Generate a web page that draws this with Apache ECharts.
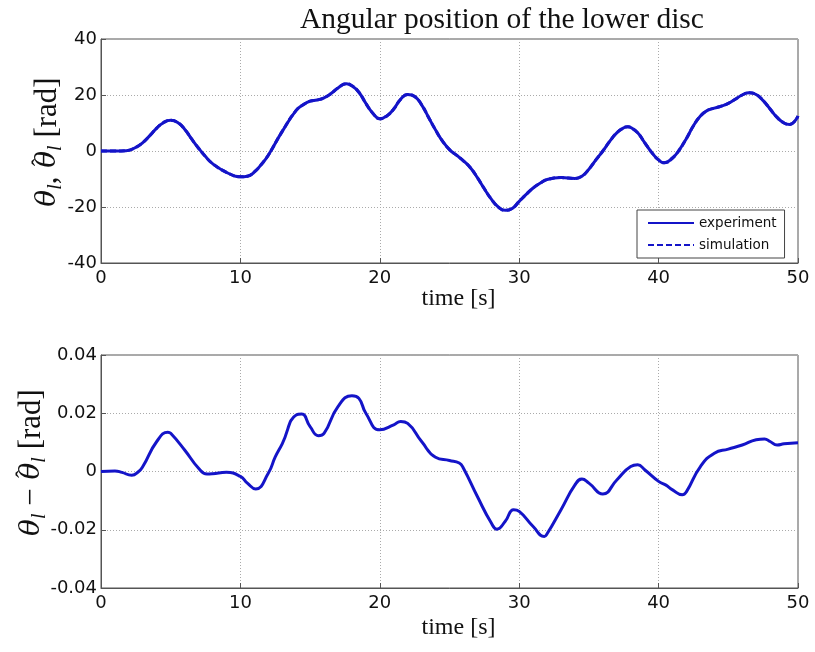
<!DOCTYPE html>
<html>
<head>
<meta charset="utf-8">
<script src="https://cdn.jsdelivr.net/npm/echarts@6/dist/echarts.min.js"></script>
<style>
html,body{margin:0;padding:0;background:#fff;}
#chart{width:815px;height:652px;}
</style>
</head>
<body>
<div id="chart"></div>
<script>
// ---- Data ----
const titleText = 'Angular position of the lower disc';
const seriesNames = ['experiment', 'simulation'];
const xTicks = [0, 10, 20, 30, 40, 50];
const topYTicks = [-40, -20, 0, 20, 40];
const bottomYTicks = [-0.04, -0.02, 0, 0.02, 0.04];

const topTimes = [0,1,1.8,2.5,3,3.5,4,4.5,5,5.5,6,6.5,7,7.5,8,9,10,10.5,11,11.5,12,13,14,14.5,15,15.5,16,16.5,17,17.6,18,18.5,19,19.5,20,20.5,21,21.5,22,22.5,23,23.5,24,24.5,25,25.5,26,26.5,27,27.5,28,28.5,29,29.5,30,30.5,31,31.5,32,33,34,34.5,35,35.5,36,36.5,37,37.5,37.8,38,38.5,39,39.5,40,40.4,41,41.5,42,42.5,43,43.5,44,44.5,45,45.5,46,46.5,47,47.5,48,48.5,49,49.4,50];
const experimentValues = [0,0,0.1,1.3,3.0,5.5,8.2,10.2,11,10.2,7.8,4.3,1,-2,-4.5,-7.6,-9.2,-9,-7.5,-4.8,-1.5,7,14.5,16.5,17.8,18.2,19,20.5,22.5,24,23.3,21,17,13.5,11.5,12.5,15,18.5,20.2,19.5,16.5,12,7.5,3.5,0.5,-1.5,-3.5,-6,-9.5,-13.5,-17.2,-20,-21.2,-20.5,-18,-15.5,-13.2,-11.5,-10.2,-9.5,-9.8,-9,-6.5,-3.2,0,3.5,6.5,8.3,8.7,8.4,6.5,3,-0.5,-3.2,-4.2,-2.5,0.5,4.5,9,12.5,14.5,15.3,16,17,18.5,20,20.8,20.2,18,15,12,10,9.5,12.5];
const simulationValues = [0,0,0.1,1.3,3.0,5.5,8.2,10.2,11,10.2,7.8,4.3,1,-2,-4.5,-7.6,-9.2,-9,-7.5,-4.8,-1.5,7,14.5,16.5,17.8,18.2,19,20.5,22.5,24,23.3,21,17,13.5,11.5,12.5,15,18.5,20.2,19.5,16.5,12,7.5,3.5,0.5,-1.5,-3.5,-6,-9.5,-13.5,-17.2,-20,-21.2,-20.5,-18,-15.5,-13.2,-11.5,-10.2,-9.5,-9.8,-9,-6.5,-3.2,0,3.5,6.5,8.3,8.7,8.4,6.5,3,-0.5,-3.2,-4.2,-2.5,0.5,4.5,9,12.5,14.5,15.3,16,17,18.5,20,20.8,20.2,18,15,12,10,9.5,12.5];

const bottomTimes = [0,1,1.5,2.2,2.7,3,4,4.8,5,6,7,7.6,8,9,10,10.5,11.1,12,12.5,13,14,14.4,15,15.6,16,17,18,18.5,19,20,21,21.5,22,23,24,25,25.7,26,27,28,28.4,29,29.6,30,31,31.8,32,33,34,34.5,35,36,37,38,38.5,39,40,40.5,41,41.7,42,43,44,45,46,47,47.6,48,48.5,49,50];
const errorValues = [0,0.0002,-0.0003,-0.0013,0,0.0017,0.0103,0.0135,0.0131,0.0074,0.0011,-0.0009,-0.0008,-0.0003,-0.0017,-0.004,-0.006,-0.0006,0.005,0.0095,0.0194,0.0197,0.0154,0.0123,0.0131,0.0223,0.026,0.0251,0.02,0.0143,0.016,0.0172,0.0165,0.0103,0.0049,0.0038,0.0029,0.0011,-0.0086,-0.0177,-0.0198,-0.0171,-0.0131,-0.0137,-0.0189,-0.0223,-0.0214,-0.0131,-0.0046,-0.0026,-0.004,-0.0077,-0.0029,0.0017,0.0023,0.0006,-0.0034,-0.0046,-0.0063,-0.008,-0.0069,0.0017,0.0063,0.0077,0.0091,0.0109,0.0112,0.0103,0.0091,0.0095,0.0099];

// ---- Build ----
const pair = (xs, ys) => xs.map((x, i) => [x, ys[i]]);
const lineColor = '#1414c8';
const axisColor = '#555';
const labelFont = {color: '#111', fontFamily: 'DejaVu Sans, sans-serif', fontSize: 18};
const serif = 'Liberation Serif, DejaVu Serif, serif';
const nameFont = {color: '#111', fontFamily: serif, fontSize: 24};
const mathRich = {
  m: {fontFamily: 'DejaVu Serif, serif', fontStyle: 'italic', fontSize: 28, color: '#111', lineHeight: 36},
  h: {fontFamily: serif, fontSize: 24, color: '#111', lineHeight: 18, verticalAlign: 'top', width: 1, align: 'left'},
  s: {fontFamily: serif, fontStyle: 'italic', fontSize: 20, color: '#111', lineHeight: 20, verticalAlign: 'bottom'},
  n: {fontFamily: serif, fontSize: 31, color: '#111', lineHeight: 36}
};

function xAxis(gridIndex, gap) {
  return {
    type: 'value', gridIndex, min: xTicks[0], max: xTicks[xTicks.length - 1], interval: 10,
    name: 'time [s]', nameLocation: 'middle', nameGap: gap, nameMoveOverlap: false,
    nameTextStyle: Object.assign({}, nameFont, {padding: [0, 0, 0, 18]}),
    axisLine: {show: true, onZero: false, lineStyle: {color: axisColor, width: 1}},
    axisTick: {show: true, inside: true, length: 5, lineStyle: {color: axisColor}},
    axisLabel: Object.assign({}, labelFont, {margin: 6}),
    splitLine: {show: true, lineStyle: {color: '#aaa', type: [1, 2], width: 1}}
  };
}
function yAxis(gridIndex, ticks, name, gap, fmt) {
  return {
    type: 'value', gridIndex, min: ticks[0], max: ticks[ticks.length - 1], interval: ticks[1] - ticks[0],
    name, nameLocation: 'middle', nameGap: gap, nameRotate: 90, nameMoveOverlap: false,
    nameTextStyle: {rich: mathRich, padding: [0, 0, 0, 18]},
    axisLine: {show: true, onZero: false, lineStyle: {color: axisColor, width: 1}},
    axisTick: {show: true, inside: true, length: 5, lineStyle: {color: axisColor}},
    axisLabel: Object.assign({}, labelFont, {margin: 4, formatter: fmt}),
    splitLine: {show: true, lineStyle: {color: '#aaa', type: [1, 2], width: 1}}
  };
}

const gridBase = {left: 101, width: 697, show: true, borderColor: axisColor, borderWidth: 1, backgroundColor: '#fff', containLabel: false, outerBoundsMode: 'none'};

const chart = echarts.init(document.getElementById('chart'), null, {renderer: 'canvas'});
chart.setOption({
  backgroundColor: '#fff',
  animation: false,
  title: {
    text: titleText, left: 295, top: 0,
    textStyle: {fontFamily: serif, fontWeight: 'normal', fontSize: 29.5, color: '#111'}
  },
  legend: {
    data: seriesNames, orient: 'vertical', left: 637, top: 210,
    padding: [6, 8, 6, 10], itemGap: 8, itemWidth: 46, itemHeight: 14, itemTextGap: 7,
    borderColor: '#444', borderWidth: 1, backgroundColor: '#fff',
    selectedMode: false,
    itemStyle: {color: 'rgba(0,0,0,0)', borderWidth: 0, opacity: 0},
    textStyle: {fontFamily: 'DejaVu Sans, sans-serif', fontSize: 13.5, color: '#111'}
  },
  grid: [
    Object.assign({}, gridBase, {top: 39, height: 224}),
    Object.assign({}, gridBase, {top: 355, height: 233})
  ],
  xAxis: [xAxis(0, 24), xAxis(1, 28)],
  yAxis: [
    yAxis(0, topYTicks, '{m|θ}{s|l}{n|, }{h|\u2002ˆ}{m|θ}{s|l}{n| [rad]}', 35, v => String(v)),
    yAxis(1, bottomYTicks, '{m|θ}{s|l}{n| − }{h|\u2002ˆ}{m|θ}{s|l}{n| [rad]}', 51, v => (Math.abs(v) < 1e-9 ? '0' : v.toFixed(2)))
  ],
  series: [
    {name: seriesNames[0], type: 'line', xAxisIndex: 0, yAxisIndex: 0, data: pair(topTimes, experimentValues),
     smooth: 0.5, showSymbol: false, symbol: 'none', lineStyle: {color: lineColor, width: 3}, itemStyle: {color: lineColor}},
    {name: seriesNames[1], type: 'line', xAxisIndex: 0, yAxisIndex: 0, data: pair(topTimes, simulationValues),
     smooth: 0.5, showSymbol: false, symbol: 'none', lineStyle: {color: lineColor, width: 3, type: [6, 3]}, itemStyle: {color: lineColor}},
    {name: 'error', type: 'line', xAxisIndex: 1, yAxisIndex: 1, data: pair(bottomTimes, errorValues),
     smooth: 0.5, showSymbol: false, symbol: 'none', lineStyle: {color: lineColor, width: 3}, itemStyle: {color: lineColor}}
  ]
});
</script>
</body>
</html>
